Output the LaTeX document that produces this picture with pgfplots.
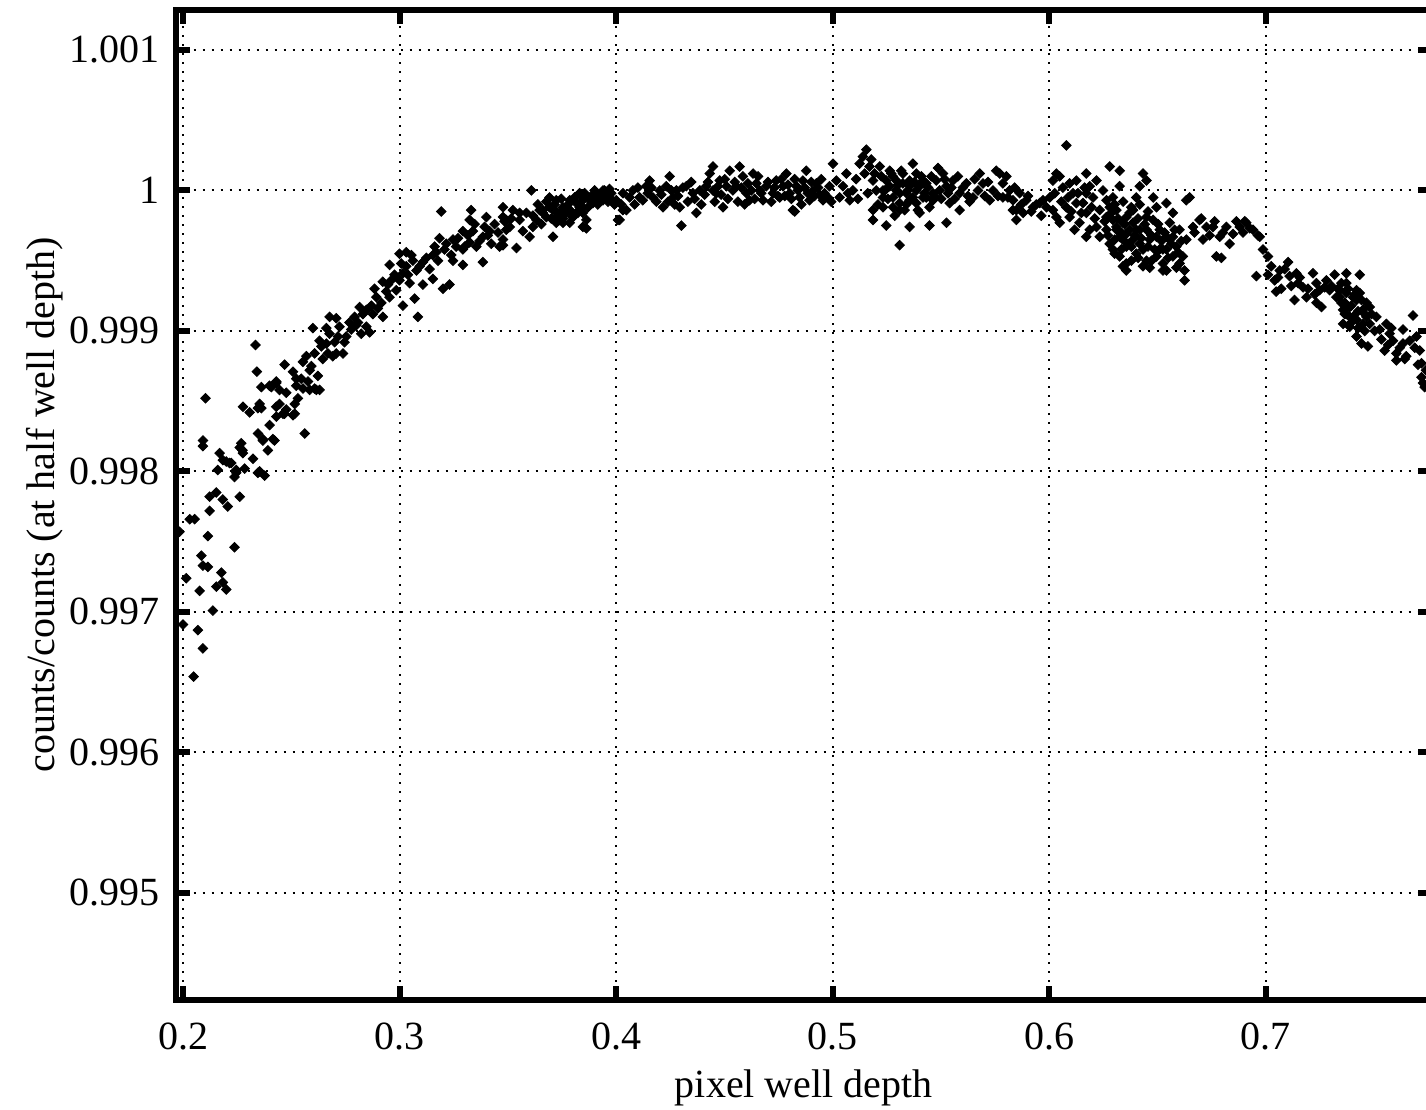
\documentclass[border=0pt]{standalone}
\usepackage{pgfplots}
\usepackage{pgfplotstable}
\pgfplotsset{compat=1.18}
\usepackage{fontspec}
\setmainfont{Liberation Serif}
\pgfplotstableread{
x y
0.2103 0.99852
0.2091 0.99822
0.2091 0.99818
0.2168 0.99813
0.2183 0.99808
0.2222 0.99806
0.2261 0.99817
0.2274 0.99815
0.2268 0.99820
0.2322 0.99809
0.2284 0.99802
0.2245 0.99801
0.2237 0.99796
0.2160 0.99801
0.2353 0.99800
0.2376 0.99797
0.2276 0.99846
0.2307 0.99842
0.2353 0.99848
0.2361 0.99845
0.2345 0.99827
0.2368 0.99822
0.2391 0.99815
0.2422 0.99822
0.2399 0.99833
0.2430 0.99839
0.2461 0.99841
0.2476 0.99844
0.2515 0.99848
0.2515 0.99841
0.2445 0.99858
0.2476 0.99856
0.2407 0.99860
0.2361 0.99860
0.2430 0.99863
0.2522 0.99861
0.2553 0.99859
0.2584 0.99858
0.2615 0.99858
0.2561 0.99827
0.2153 0.99785
0.2183 0.99780
0.2206 0.99775
0.2122 0.99782
0.2122 0.99772
0.2261 0.99782
0.2030 0.99766
0.2053 0.99766
0.1983 0.99757
0.2114 0.99754
0.2237 0.99746
0.2084 0.99740
0.2091 0.99733
0.2114 0.99732
0.2014 0.99724
0.2176 0.99728
0.2183 0.99721
0.2153 0.99718
0.2199 0.99716
0.2076 0.99715
0.2137 0.99701
0.1999 0.99691
0.2068 0.99687
0.2091 0.99674
0.2048 0.99654
0.2334 0.99890
0.2340 0.99871
0.2599 0.99902
0.2399 0.99861
0.2430 0.99864
0.2468 0.99876
0.2507 0.99871
0.2522 0.99866
0.2553 0.99878
0.2584 0.99872
0.2607 0.99859
0.2630 0.99858
0.2569 0.99882
0.2607 0.99884
0.2630 0.99893
0.2638 0.99889
0.2661 0.99891
0.2676 0.99898
0.2691 0.99882
0.2707 0.99884
0.2738 0.99884
0.2676 0.99910
0.2707 0.99909
0.2661 0.99902
0.2722 0.99903
0.2753 0.99896
0.2776 0.99901
0.2799 0.99904
0.2822 0.99898
0.2846 0.99903
0.2861 0.99899
0.2815 0.99917
0.2846 0.99915
0.2876 0.99912
0.2899 0.99916
0.2922 0.99910
0.2884 0.99930
0.2922 0.99935
0.2946 0.99933
0.2953 0.99924
0.2984 0.99929
0.2999 0.99936
0.3015 0.99941
0.3030 0.99946
0.2953 0.99947
0.2999 0.99955
0.3030 0.99956
0.3061 0.99950
0.3077 0.99943
0.3046 0.99934
0.3069 0.99923
0.3084 0.99910
0.3015 0.99918
0.3107 0.99949
0.3153 0.99954
0.3169 0.99956
0.3153 0.99937
0.3107 0.99933
0.3200 0.99930
0.3230 0.99933
0.3184 0.99966
0.3215 0.99962
0.3246 0.99965
0.3261 0.99960
0.3246 0.99950
0.3292 0.99947
0.3292 0.99958
0.3292 0.99971
0.3323 0.99979
0.3338 0.99971
0.3384 0.99949
0.3192 0.99985
0.3330 0.99986
0.3400 0.99981
0.3323 0.99963
0.3354 0.99960
0.3384 0.99967
0.3415 0.99971
0.3423 0.99962
0.3461 0.99960
0.3477 0.99965
0.3477 0.99988
0.3492 0.99979
0.3508 0.99974
0.3539 0.99959
0.3554 0.99984
0.3569 0.99971
0.3600 0.99967
0.3608 1.00000
0.3631 0.99979
0.3661 0.99984
0.3692 0.99988
0.3723 0.99985
0.3708 0.99967
0.3754 0.99980
0.3785 0.99986
0.3816 0.99991
0.3846 0.99984
0.3862 0.99973
0.3846 0.99995
0.3892 0.99993
0.3939 1.00000
0.3969 0.99995
0.4008 0.99979
0.4031 0.99986
0.3646 0.99986
0.3677 0.99981
0.3708 0.99986
0.3738 0.99979
0.3769 0.99984
0.3800 0.99981
0.3831 0.99988
0.3754 0.99988
0.3723 0.99977
0.3785 0.99977
0.2214 0.99806
0.2245 0.99799
0.2345 0.99799
0.2199 0.99807
0.2276 0.99813
0.2368 0.99823
0.2414 0.99823
0.2345 0.99845
0.2430 0.99846
0.2445 0.99848
0.2468 0.99841
0.2507 0.99840
0.3477 0.99981
0.3492 0.99972
0.3477 0.99961
0.3523 0.99986
0.3554 0.99979
0.3585 0.99984
0.3615 0.99974
0.3661 0.99986
0.3692 0.99995
0.3723 0.99993
0.3738 0.99984
0.3754 0.99977
0.3769 0.99988
0.3785 0.99993
0.3800 0.99981
0.3816 0.99984
0.3831 0.99998
0.3846 0.99988
0.3846 0.99974
0.3862 0.99979
0.3877 0.99993
0.3892 0.99991
0.3908 0.99998
0.3923 0.99995
0.3939 0.99993
0.3954 0.99998
0.3969 1.00001
0.4000 0.99993
0.4016 0.99979
0.4047 0.99986
0.4031 0.99998
0.4077 1.00000
0.4108 0.99995
0.4139 1.00003
0.4154 1.00007
0.4170 0.99995
0.4201 1.00000
0.4216 0.99988
0.4231 1.00003
0.4247 1.00010
0.4262 0.99995
0.4293 0.99988
0.4301 0.99975
0.4278 1.00000
0.4324 1.00003
0.4354 0.99998
0.4370 0.99984
0.4386 1.00000
0.4416 1.00003
0.4447 1.00000
0.4432 1.00012
0.4447 1.00017
0.4462 0.99998
0.4478 1.00007
0.4493 0.99988
0.4509 1.00003
0.4524 1.00014
0.4539 1.00000
0.4555 1.00003
0.4570 1.00017
0.4585 1.00010
0.4601 0.99998
0.4616 0.99993
0.4632 1.00012
0.4647 1.00005
0.4662 1.00000
0.4678 0.99993
0.4693 1.00003
0.4724 0.99998
0.4739 1.00007
0.4755 0.99995
0.4770 1.00003
0.4786 1.00012
0.4801 0.99998
0.4816 0.99986
0.4832 1.00003
0.4847 0.99995
0.4862 1.00007
0.4878 1.00014
0.4893 0.99993
0.4909 1.00000
0.4924 1.00005
0.4939 0.99997
0.4955 0.99993
0.4978 0.99995
0.4824 0.99985
0.5001 1.00019
0.5017 1.00007
0.5032 0.99995
0.5063 1.00012
0.5078 0.99993
0.5093 1.00000
0.5124 1.00019
0.5139 1.00024
0.5155 1.00029
0.5170 1.00017
0.5186 1.00007
0.5201 1.00000
0.5217 1.00017
0.5232 0.99995
0.5247 1.00007
0.5263 1.00003
0.5278 1.00010
0.5294 1.00000
0.5309 0.99991
0.5324 1.00005
0.5340 0.99998
0.5355 1.00007
0.5370 1.00019
0.5386 1.00012
0.5386 0.99991
0.5401 1.00003
0.5417 0.99995
0.5432 1.00005
0.5447 0.99988
0.5463 0.99998
0.5478 1.00007
0.5494 1.00000
0.5509 1.00012
0.5525 1.00003
0.5540 0.99991
0.5555 1.00007
0.5586 0.99998
0.5617 1.00005
0.5648 0.99995
0.5679 1.00012
0.5694 1.00005
0.5725 0.99993
0.5755 1.00014
0.5186 0.99979
0.5247 0.99975
0.5309 0.99961
0.5355 0.99974
0.5447 0.99975
0.5525 0.99977
0.5586 0.99986
0.5632 0.99992
0.5186 0.99986
0.5309 0.99986
0.5401 0.99984
0.5278 0.99995
0.5355 0.99993
0.5463 0.99993
0.5232 0.99988
0.5263 1.00014
0.5324 1.00012
0.5386 1.00000
0.5294 1.00007
0.5355 1.00003
0.5417 1.00007
0.5232 1.00000
0.5309 0.99998
0.5370 0.99995
0.5432 0.99995
0.5278 0.99988
0.5340 0.99990
0.5771 1.00012
0.5786 1.00005
0.5802 1.00010
0.5817 1.00000
0.5786 0.99995
0.5832 0.99993
0.5848 0.99986
0.5863 0.99998
0.5879 0.99984
0.5894 0.99993
0.5925 0.99988
0.5956 0.99991
0.5963 0.99982
0.5971 0.99993
0.5832 0.99986
0.5848 0.99979
0.6079 1.00032
0.6017 1.00007
0.6033 1.00012
0.6048 1.00010
0.6002 0.99995
0.6017 0.99986
0.6048 0.99977
0.6033 0.99981
0.6079 0.99988
0.6094 1.00005
0.6110 0.99998
0.6125 1.00007
0.6117 0.99972
0.6140 0.99977
0.6156 0.99991
0.6171 0.99998
0.6171 1.00012
0.6187 1.00003
0.6202 0.99995
0.6218 1.00007
0.6233 0.99986
0.6218 0.99974
0.6171 0.99967
0.6187 0.99972
0.6233 0.99967
0.6279 1.00017
0.6248 1.00000
0.6279 0.99988
0.6294 0.99995
0.6310 0.99986
0.6325 1.00014
0.6325 1.00003
0.6340 0.99977
0.6356 0.99969
0.6371 0.99984
0.6379 0.99960
0.6387 0.99977
0.6402 0.99995
0.6418 0.99972
0.6418 1.00003
0.6433 1.00012
0.6449 1.00007
0.6449 0.99981
0.6464 0.99965
0.6480 0.99995
0.6495 0.99988
0.6510 0.99972
0.6525 0.99958
0.6541 0.99991
0.6556 0.99977
0.6556 0.99965
0.6571 0.99984
0.6587 0.99960
0.6602 0.99972
0.6617 0.99953
0.6625 0.99936
0.6633 0.99965
0.6648 0.99995
0.6664 0.99974
0.6694 0.99979
0.6710 0.99965
0.6726 0.99974
0.6756 0.99974
0.6772 0.99953
0.6787 0.99967
0.6795 0.99952
0.6818 0.99974
0.6833 0.99962
0.6849 0.99969
0.6880 0.99974
0.6910 0.99977
0.6941 0.99972
0.6972 0.99967
0.6633 0.99993
0.6264 0.99981
0.6294 0.99979
0.6310 0.99972
0.6325 0.99967
0.6279 0.99962
0.6294 0.99958
0.6340 0.99965
0.6356 0.99960
0.6325 0.99953
0.6356 0.99948
0.6387 0.99965
0.6418 0.99962
0.6402 0.99955
0.6433 0.99958
0.6449 0.99950
0.6495 0.99953
0.6525 0.99948
0.6541 0.99943
0.6571 0.99953
0.6602 0.99948
0.6625 0.99943
0.6264 0.99972
0.6356 0.99981
0.6387 0.99986
0.6402 0.99972
0.6449 0.99972
0.6480 0.99979
0.6495 0.99967
0.6541 0.99967
0.6571 0.99967
0.6587 0.99945
0.6464 0.99945
0.6510 0.99958
0.6541 0.99958
0.6264 0.99993
0.6171 0.99984
0.6094 0.99981
0.6125 0.99991
0.6340 0.99946
0.6356 0.99943
0.6433 0.99946
0.6525 0.99943
0.6310 0.99974
0.6903 0.99978
0.6926 0.99973
0.6964 0.99968
0.6987 0.99958
0.7010 0.99953
0.6957 0.99939
0.7010 0.99940
0.7041 0.99936
0.7064 0.99943
0.7103 0.99949
0.7110 0.99939
0.7048 0.99928
0.7071 0.99930
0.7141 0.99941
0.7149 0.99934
0.7133 0.99922
0.7172 0.99931
0.7188 0.99924
0.7218 0.99941
0.7234 0.99934
0.7249 0.99929
0.7234 0.99920
0.7257 0.99917
0.7272 0.99931
0.7295 0.99929
0.7318 0.99940
0.7326 0.99924
0.7372 0.99941
0.7434 0.99940
0.7349 0.99920
0.7388 0.99917
0.7372 0.99912
0.7403 0.99910
0.7419 0.99922
0.7449 0.99915
0.7357 0.99905
0.7388 0.99903
0.7465 0.99910
0.7480 0.99905
0.7419 0.99896
0.7442 0.99891
0.7472 0.99889
0.7511 0.99910
0.7526 0.99901
0.7557 0.99905
0.7572 0.99898
0.7549 0.99886
0.7603 0.99884
0.7603 0.99879
0.7649 0.99882
0.7634 0.99901
0.7665 0.99893
0.7680 0.99911
0.7696 0.99896
0.7711 0.99886
0.7719 0.99877
0.7719 0.99867
0.7726 0.99863
0.7734 0.99860
0.7634 0.99891
0.7588 0.99893
0.7341 0.99929
0.7372 0.99927
0.7403 0.99924
0.7434 0.99927
0.7465 0.99920
0.7357 0.99915
0.7388 0.99910
0.7419 0.99908
0.7449 0.99905
0.7480 0.99917
0.7372 0.99934
0.7419 0.99929
0.7341 0.99924
0.4023 0.99990
0.4062 0.99995
0.4085 0.99990
0.4100 1.00002
0.4123 0.99993
0.4146 0.99998
0.4162 1.00002
0.4185 0.99992
0.4208 0.99997
0.4239 0.99992
0.4255 1.00000
0.4270 0.99990
0.4285 0.99996
0.4308 1.00002
0.4331 0.99992
0.4346 1.00006
0.4362 0.99994
0.4393 0.99990
0.4408 0.99997
0.4424 1.00006
0.4455 0.99992
0.4470 1.00003
0.4485 0.99997
0.4501 1.00008
0.4516 0.99994
0.4547 1.00006
0.4562 0.99992
0.4578 1.00002
0.4593 0.99990
0.4608 1.00005
0.4624 1.00000
0.4639 0.99994
0.4655 1.00010
0.4670 0.99998
0.4701 1.00006
0.4716 0.99992
0.4731 1.00002
0.4747 0.99996
0.4762 1.00008
0.4778 0.99996
0.4793 1.00004
0.4809 0.99994
0.4824 1.00008
0.4839 1.00000
0.4855 0.99990
0.4870 1.00002
0.4885 0.99998
0.4901 1.00006
0.4916 0.99996
0.4932 1.00002
0.4947 1.00008
0.4962 0.99998
0.4985 1.00003
0.4993 0.99992
0.3615 0.99982
0.3638 0.99990
0.3654 0.99976
0.3677 0.99992
0.3700 0.99980
0.3715 0.99990
0.3731 0.99982
0.3746 0.99994
0.3761 0.99983
0.3777 0.99990
0.3792 0.99985
0.3808 0.99995
0.3823 0.99984
0.3839 0.99992
0.3854 0.99998
0.3869 0.99988
0.3885 0.99996
0.3900 1.00000
0.3915 0.99990
0.3931 0.99997
0.3946 1.00000
0.3962 0.99992
0.3977 0.99998
0.3992 0.99990
0.5047 1.00003
0.5070 0.99998
0.5108 1.00008
0.5116 0.99994
0.5147 1.00012
0.5162 0.99998
0.5178 1.00022
0.5193 1.00012
0.5209 0.99990
0.5224 1.00010
0.5240 1.00000
0.5255 0.99994
0.5270 1.00012
0.5286 0.99982
0.5301 1.00004
0.5316 1.00014
0.5332 0.99986
0.5347 1.00000
0.5362 0.99994
0.5378 1.00006
0.5393 0.99986
0.5409 1.00010
0.5424 0.99998
0.5440 1.00002
0.5455 1.00010
0.5470 0.99996
0.5486 1.00016
0.5501 0.99994
0.5517 1.00008
0.5532 0.99998
0.5548 1.00002
0.5563 0.99994
0.5578 1.00010
0.5601 1.00002
0.5625 0.99996
0.5655 1.00008
0.5671 1.00000
0.5702 0.99996
0.5717 1.00006
0.5740 1.00000
0.5763 0.99996
0.5809 0.99995
0.5840 1.00002
0.5871 0.99990
0.5902 0.99996
0.5917 0.99985
0.5940 0.99990
0.5987 0.99988
0.6025 0.99998
0.6056 0.99992
0.6063 1.00002
0.6087 0.99995
0.6102 0.99985
0.6133 0.99998
0.6148 0.99984
0.6163 1.00002
0.6195 0.99988
0.6210 0.99980
0.6256 0.99978
0.6271 0.99968
0.6287 0.99984
0.6302 0.99965
0.6317 0.99980
0.6333 0.99970
0.6348 0.99976
0.6364 0.99962
0.6371 0.99972
0.6394 0.99968
0.6410 0.99980
0.6425 0.99966
0.6441 0.99976
0.6456 0.99960
0.6472 0.99968
0.6487 0.99958
0.6503 0.99976
0.6518 0.99964
0.6533 0.99970
0.6549 0.99952
0.6564 0.99962
0.6579 0.99972
0.6595 0.99956
0.6610 0.99964
0.6302 0.99990
0.6341 0.99992
0.6379 0.99988
0.6418 0.99990
0.6456 0.99985
0.6302 0.99955
0.6333 0.99958
0.6379 0.99950
0.6410 0.99952
0.6472 0.99950
0.6671 0.99970
0.6702 0.99980
0.6741 0.99968
0.6764 0.99978
0.6802 0.99970
0.6864 0.99978
0.6895 0.99970
0.7280 0.99936
0.7303 0.99932
0.7334 0.99930
0.7349 0.99934
0.7365 0.99920
0.7380 0.99930
0.7395 0.99918
0.7411 0.99926
0.7426 0.99914
0.7442 0.99922
0.7457 0.99912
0.7365 0.99912
0.7395 0.99906
0.7426 0.99902
0.7457 0.99900
0.7488 0.99912
0.7503 0.99900
0.7534 0.99894
0.7565 0.99890
0.7580 0.99902
0.7619 0.99888
0.7642 0.99880
0.7688 0.99888
0.7703 0.99876
0.7740 0.99872
0.7025 0.99946
0.7056 0.99938
0.7087 0.99944
0.7118 0.99932
0.7157 0.99938
0.7195 0.99930
0.7226 0.99926
0.2530 0.99852
0.2545 0.99866
0.2576 0.99864
0.2592 0.99875
0.2622 0.99868
0.2645 0.99880
0.2668 0.99884
0.2699 0.99892
0.2715 0.99896
0.2745 0.99892
0.2768 0.99906
0.2792 0.99910
0.2807 0.99906
0.2830 0.99912
0.2869 0.99918
0.2892 0.99924
0.2915 0.99920
0.2938 0.99928
0.2961 0.99936
0.2976 0.99940
0.3007 0.99948
0.3038 0.99940
0.3054 0.99954
0.3092 0.99946
0.3123 0.99952
0.3138 0.99944
0.3161 0.99960
0.3177 0.99950
0.3207 0.99958
0.3238 0.99954
0.3269 0.99966
0.3300 0.99960
0.3315 0.99968
0.3346 0.99976
0.3369 0.99964
0.3392 0.99974
0.3407 0.99968
0.3438 0.99976
0.3454 0.99970
0.3484 0.99978
0.3515 0.99980
}\datatable
\begin{document}
\begin{tikzpicture}
\path[use as bounding box, clip] (-43.9pt,-27.6pt) rectangle (312.6pt,249.9pt);
\begin{axis}[
  at={(0,0)}, anchor=south west,
  scale only axis, width=314.1pt, height=247.5pt,
  xmin=0.19649, xmax=0.77677, ymin=0.994241, ymax=1.001287,
  xtick={0.2,0.3,0.4,0.5,0.6,0.7},
  xticklabels={0.2,0.3,0.4,0.5,0.6,0.7},
  ytick={0.995,0.996,0.997,0.998,0.999,1,1.001},
  yticklabels={0.995,0.996,0.997,0.998,0.999,1,1.001},
  grid=major,
  major grid style={black, line width=0.5pt, dash pattern=on 0.5pt off 1.75pt},
  axis line style={line width=1.5pt},
  tick style={line width=1.5pt, black},
  major tick length=3.5pt,
  tick align=inside,
  /pgf/number format/assume math mode=true,
  tick label style={font=\fontsize{10}{12}\selectfont},
  xticklabel style={yshift=-2.3pt},
  yticklabel style={xshift=-0.6pt},
  xlabel={pixel well depth},
  ylabel={counts/counts (at half well depth)},
  every axis x label/.style={at={(axis description cs:0.5,-0.0986)}, anchor=base, font=\fontsize{10}{12}\selectfont},
  every axis y label/.style={at={(axis description cs:-0.0961,0.5)}, rotate=90, anchor=base, font=\fontsize{10}{12}\selectfont},
]
\addplot[only marks, mark=square*, mark size=0.85pt,
  mark options={rotate=45, fill=black, draw=black, line width=0.2pt}]
  table[x=x, y=y] {\datatable};
\end{axis}
\end{tikzpicture}
\end{document}
